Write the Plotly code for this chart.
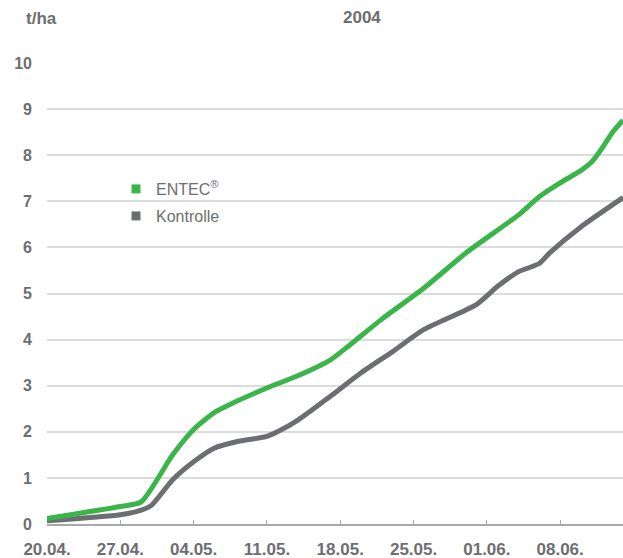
import plotly.graph_objects as go

dates_entec = ["2004-04-20", "2004-04-27", "2004-04-29", "2004-05-02", "2004-05-04",
               "2004-05-06", "2004-05-08", "2004-05-11", "2004-05-14", "2004-05-17",
               "2004-05-19", "2004-05-22", "2004-05-26", "2004-05-30", "2004-06-04",
               "2004-06-06", "2004-06-08", "2004-06-10", "2004-06-11", "2004-06-12",
               "2004-06-13", "2004-06-14"]
entec = [0.12, 0.38, 0.48, 1.5, 2.05, 2.42, 2.65, 2.95, 3.22, 3.55, 3.9, 4.45, 5.12,
         5.88, 6.7, 7.1, 7.4, 7.67, 7.85, 8.15, 8.5, 8.76]

dates_kontrolle = ["2004-04-20", "2004-04-27", "2004-04-29", "2004-04-30", "2004-05-02",
                   "2004-05-04", "2004-05-06", "2004-05-08", "2004-05-11", "2004-05-12",
                   "2004-05-14", "2004-05-17", "2004-05-20", "2004-05-23", "2004-05-26",
                   "2004-05-31", "2004-06-02", "2004-06-04", "2004-06-06", "2004-06-07",
                   "2004-06-10", "2004-06-14"]
kontrolle = [0.07, 0.2, 0.3, 0.41, 0.96, 1.35, 1.65, 1.78, 1.9, 2.0, 2.26, 2.76, 3.28,
             3.74, 4.22, 4.76, 5.15, 5.47, 5.65, 5.88, 6.45, 7.08]

tick_dates = ["2004-04-20", "2004-04-27", "2004-05-04", "2004-05-11", "2004-05-18",
              "2004-05-25", "2004-06-01", "2004-06-08"]
tick_labels = ["20.04.", "27.04.", "04.05.", "11.05.", "18.05.", "25.05.", "01.06.", "08.06."]

GREEN = "#39b54a"
GREY = "#6d6e71"
TXT = "#6d6e71"
FONT = "Liberation Sans"

fig = go.Figure()
fig.add_trace(go.Scatter(x=dates_kontrolle, y=kontrolle, mode="lines",
                         line=dict(color=GREY, width=5, shape="spline", smoothing=0.6),
                         showlegend=False, hoverinfo="skip"))
fig.add_trace(go.Scatter(x=dates_entec, y=entec, mode="lines",
                         line=dict(color=GREEN, width=5, shape="spline", smoothing=0.6),
                         showlegend=False, hoverinfo="skip"))
# legend entries (square symbols)
fig.add_trace(go.Scatter(x=[None], y=[None], mode="markers", name="ENTEC<sup>®</sup>",
                         marker=dict(symbol="square", size=9, color=GREEN), legend="legend"))
fig.add_trace(go.Scatter(x=[None], y=[None], mode="markers", name="Kontrolle",
                         marker=dict(symbol="square", size=9, color=GREY), legend="legend2"))

legend_common = dict(font=dict(family=FONT, size=16, color=TXT), bgcolor="rgba(0,0,0,0)",
                     xanchor="left", yanchor="middle", borderwidth=0)

fig.update_layout(
    width=623, height=558,
    margin=dict(l=47, r=0, t=63, b=34),
    paper_bgcolor="white", plot_bgcolor="white",
    font=dict(family=FONT, color=TXT),
    legend=dict(x=(116 - 47) / 576, y=(524 - 189) / 461, **legend_common),
    legend2=dict(x=(116 - 47) / 576, y=(524 - 216) / 461, **legend_common),
    xaxis=dict(
        type="date", range=["2004-04-20", "2004-06-14"],
        tickvals=tick_dates, ticktext=tick_labels,
        showgrid=False, zeroline=False,
        showline=True, linecolor="#a7a8aa", linewidth=2,
        ticks="inside", ticklen=4, tickwidth=1, tickcolor="#a7a8aa",
        tickfont=dict(family=FONT, size=17, color=TXT, weight="bold"),
        ticklabelstandoff=9,
    ),
    yaxis=dict(
        range=[0, 10], tickvals=list(range(0, 11)),
        showgrid=True, gridcolor="#dcdcdc", gridwidth=1.5,
        zeroline=False, showline=False, ticks="",
        tickfont=dict(family=FONT, size=16, color=TXT, weight="bold"),
        ticklabelstandoff=14,
    ),
    annotations=[
        dict(text="t/ha", xref="paper", yref="paper", x=(41 - 47) / 576, y=(524 - 19) / 461,
             showarrow=False, xanchor="center", yanchor="middle",
             font=dict(family=FONT, size=17, color=TXT, weight="bold")),
        dict(text="2004", xref="paper", yref="paper", x=(362 - 47) / 576, y=(524 - 18) / 461,
             showarrow=False, xanchor="center", yanchor="middle",
             font=dict(family=FONT, size=17, color=TXT, weight="bold")),
    ],
)

fig.write_html("out.html")
